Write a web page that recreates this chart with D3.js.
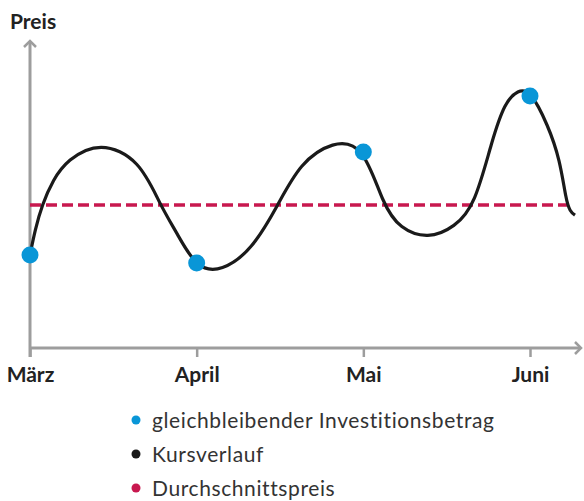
<!DOCTYPE html>
<html>
<head>
<meta charset="utf-8">
<script src="https://cdn.jsdelivr.net/npm/d3@7"></script>
<style>
  body { margin: 0; background: #fff; }
  text { font-family: Lato, "Open Sans", sans-serif; }
</style>
</head>
<body>
<div id="container"></div>
<script>
/* CONSTANTS AND GLOBALS */
const width = 584,
  height = 501;

/* DATA */
// months: 0 = März, 1 = April, 2 = Mai, 3 = Juni
const monthLabels = ["März", "April", "Mai", "Juni"];
const curveMonths = [0, 0.03, 0.072, 0.138, 0.222, 0.42, 0.66, 0.78, 0.882, 1.0, 1.15, 1.332, 1.488, 1.62, 1.818, 2.0, 2.118, 2.22, 2.388, 2.55, 2.67, 2.772, 2.85, 2.928, 3.0, 3.108, 3.18, 3.216, 3.24, 3.27];
const curvePrices = [31, 39.3, 47.7, 56, 62.7, 69, 62.7, 47.7, 38.3, 26.3, 25.5, 32.7, 47.7, 61.7, 69, 68, 47.7, 39.7, 36.3, 40.3, 47.7, 69.3, 82, 86, 86.1, 74.3, 62.7, 49.3, 45.5, 44.3];
const investMonths = [0, 1, 2, 3];
const investPrices = [31, 28.3, 65.3, 84];
const averagePrice = 47.7;
const legendLabels = ["gleichbleibender Investitionsbetrag", "Kursverlauf", "Durchschnittspreis"];
const legendColors = ["#0996d7", "#1a1a1a", "#c8184f"];

/* SCALES */
const xScale = d3.scaleLinear()
  .domain([0, 3])
  .range([30, 530]);

const yScale = d3.scaleLinear()
  .domain([0, 100])
  .range([348, 48]);

/* SVG */
const svg = d3.select("#container")
  .append("svg")
  .attr("width", width)
  .attr("height", height);

const axisColor = "#9d9d9d";

// x axis
const xAxis = d3.axisBottom(xScale)
  .tickValues([0, 1, 2, 3])
  .tickFormat(d => monthLabels[d])
  .tickSize(9)
  .tickSizeOuter(0)
  .tickPadding(10);

const xg = svg.append("g")
  .attr("transform", `translate(0, ${yScale(0)})`)
  .call(xAxis);
xg.select(".domain").remove();
xg.selectAll(".tick line")
  .attr("stroke", axisColor)
  .attr("stroke-width", 2.5);
xg.selectAll(".tick text")
  .attr("fill", "#222")
  .attr("font-size", 21)
  .attr("font-weight", "bold")
  .attr("font-family", "Lato, sans-serif");

// axis lines with arrows
svg.append("line")
  .attr("x1", xScale(0)).attr("x2", 581)
  .attr("y1", yScale(0)).attr("y2", yScale(0))
  .attr("stroke", axisColor).attr("stroke-width", 3);
svg.append("path")
  .attr("d", `M575,${yScale(0) - 6} L581,${yScale(0)} L575,${yScale(0) + 6}`)
  .attr("fill", "none").attr("stroke", axisColor).attr("stroke-width", 2.5);

svg.append("line")
  .attr("x1", xScale(0)).attr("x2", xScale(0))
  .attr("y1", yScale(0) + 9).attr("y2", 41)
  .attr("stroke", axisColor).attr("stroke-width", 3);
svg.append("path")
  .attr("d", `M${xScale(0) - 6},47 L${xScale(0)},41 L${xScale(0) + 6},47`)
  .attr("fill", "none").attr("stroke", axisColor).attr("stroke-width", 2.5);

// y label
svg.append("text")
  .attr("x", 10).attr("y", 29)
  .attr("font-size", 21)
  .attr("font-weight", "bold")
  .attr("fill", "#222")
  .text("Preis");

/* AVERAGE LINE */
svg.append("line")
  .attr("x1", xScale(0)).attr("x2", 572)
  .attr("y1", yScale(averagePrice)).attr("y2", yScale(averagePrice))
  .attr("stroke", legendColors[2])
  .attr("stroke-width", 3.5)
  .attr("stroke-dasharray", "11 5");

/* PRICE CURVE */
const line = d3.line()
  .x((d, i) => xScale(curveMonths[i]))
  .y(d => yScale(d))
  .curve(d3.curveBasis);

svg.append("path")
  .datum(curvePrices)
  .attr("d", line)
  .attr("fill", "none")
  .attr("stroke", legendColors[1])
  .attr("stroke-width", 3.2);

/* INVEST POINTS */
svg.selectAll(".invest")
  .data(investMonths)
  .join("circle")
  .attr("class", "invest")
  .attr("cx", d => xScale(d))
  .attr("cy", (d, i) => yScale(investPrices[i]))
  .attr("r", 8.5)
  .attr("fill", legendColors[0]);

/* LEGEND */
const legend = svg.selectAll(".legend")
  .data(legendLabels)
  .join("g")
  .attr("class", "legend")
  .attr("transform", (d, i) => `translate(136, ${428 + i * 34})`);

legend.append("circle")
  .attr("cx", 0).attr("cy", -8)
  .attr("r", 4.5)
  .attr("fill", (d, i) => legendColors[i]);

legend.append("text")
  .attr("x", 16).attr("y", 0)
  .attr("font-size", 21)
  .attr("letter-spacing", 0.6)
  .attr("fill", "#333")
  .text(d => d);
</script>
</body>
</html>
